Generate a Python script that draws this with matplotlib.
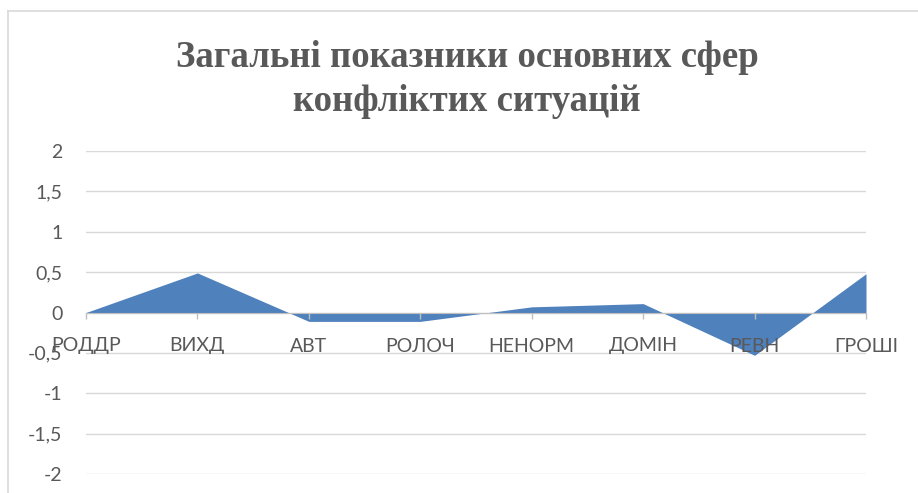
import matplotlib
matplotlib.use("Agg")
import matplotlib.pyplot as plt
from matplotlib.lines import Line2D
from matplotlib.ticker import FuncFormatter

categories = ["РОДДР", "ВИХД", "АВТ", "РОЛОЧ", "НЕНОРМ", "ДОМІН", "РЕВН", "ГРОШІ"]
values = [0.0, 0.49, -0.11, -0.11, 0.07, 0.11, -0.53, 0.48]
yticks = [-2, -1.5, -1, -0.5, 0, 0.5, 1, 1.5, 2]
title_lines = ["Загальні показники основних сфер", "конфліктих ситуацій"]

fig = plt.figure(figsize=(9.18, 4.93), dpi=100)
ax = fig.add_axes([86/918, 1-474/493, (866-86)/918, (474-151)/493])

x = list(range(len(categories)))
ax.fill_between(x, values, 0, color="#4F81BD", linewidth=0, zorder=3)

ax.set_xlim(0, len(categories)-1)
ax.set_ylim(-2, 2)
ax.set_yticks(yticks)
ax.yaxis.set_major_formatter(FuncFormatter(lambda v, p: ("%g" % v).replace(".", ",")))
ax.grid(axis="y", color="#D9D9D9", linewidth=1.0, zorder=0)
ax.set_xticks(x)
ax.set_xticklabels(categories)

for s in ["top", "right", "left"]:
    ax.spines[s].set_visible(False)
ax.spines["bottom"].set_position(("data", 0))
ax.spines["bottom"].set_color("#BFBFBF")
ax.spines["bottom"].set_zorder(4)
ax.xaxis.set_zorder(5)

ax.tick_params(axis="y", length=0, pad=17, labelsize=14, labelcolor="#595959")
ax.tick_params(axis="x", length=4, width=1, color="#BFBFBF", pad=14, labelsize=14, labelcolor="#595959")
for lab in ax.get_xticklabels() + ax.get_yticklabels():
    lab.set_fontfamily("Lato")

for i, line in enumerate(title_lines):
    fig.text(467/918, 1-(67+44*i)/493, line, ha="center", va="baseline", fontsize=26.5,
             fontweight="bold", family="Liberation Serif", color="#595959")

# chart frame lines
fig.add_artist(Line2D([8/918, 1], [1-11/493, 1-11/493], color="#D9D9D9", linewidth=1.2))
fig.add_artist(Line2D([8/918, 8/918], [0, 1-11/493], color="#D9D9D9", linewidth=1.2))

fig.savefig("out.png", dpi=100)
